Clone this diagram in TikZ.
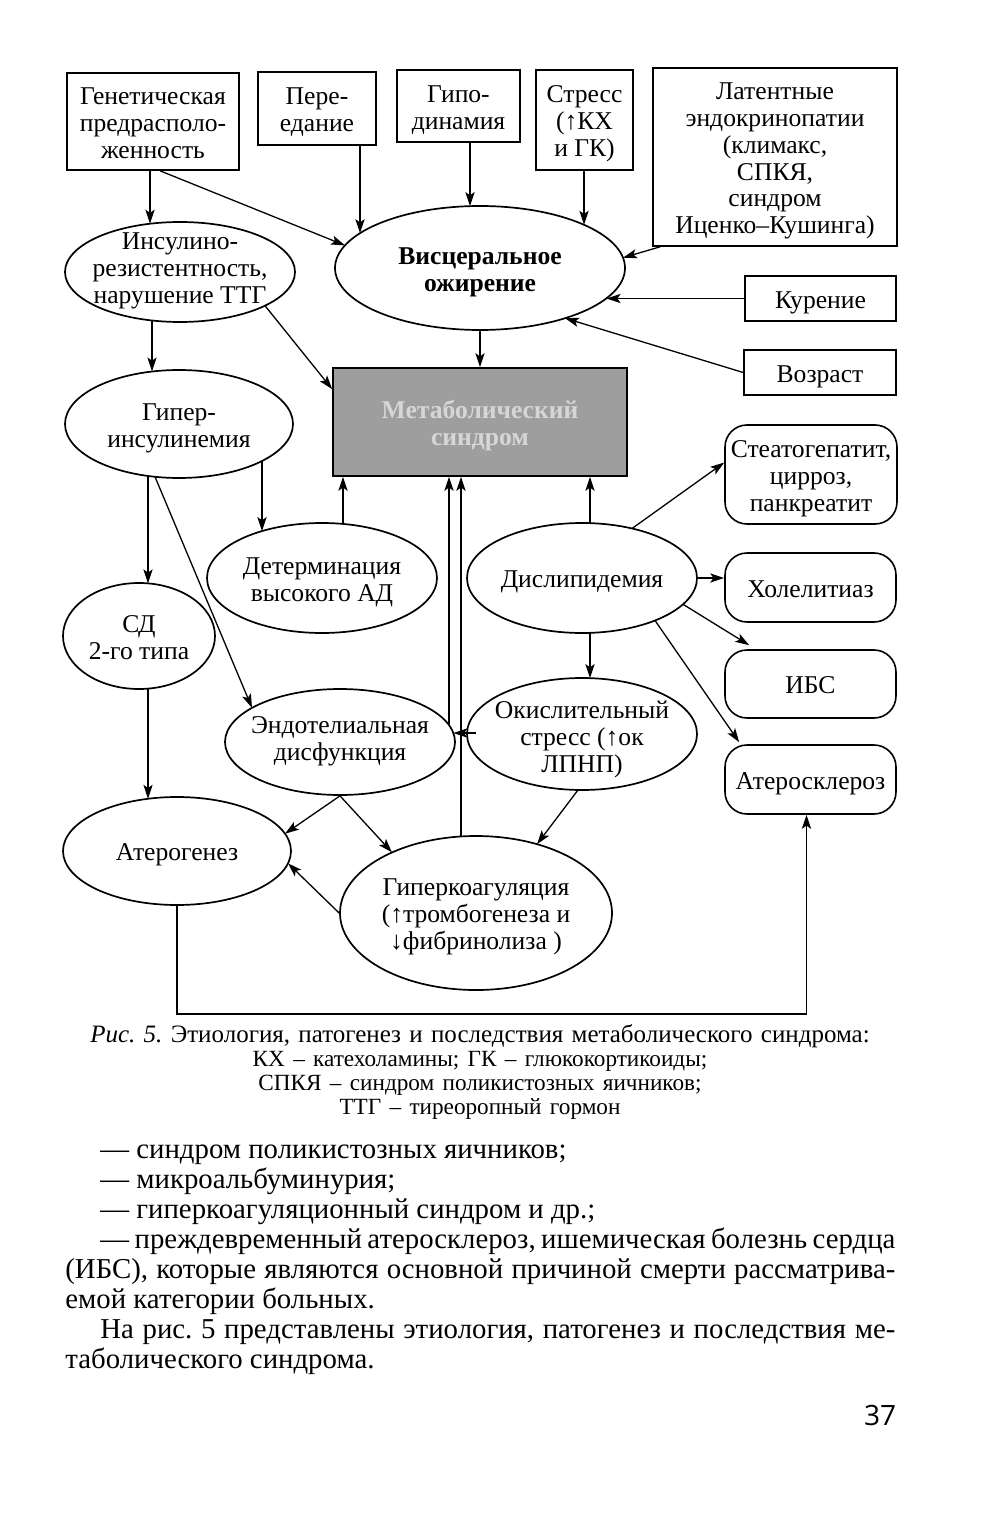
\documentclass[tikz,border=0pt]{standalone}
\usepackage{fontspec}
\setmainfont{Liberation Serif}
\newfontfamily\numfont{Open Sans}
\usetikzlibrary{shapes.geometric,arrows.meta,calc}
\frenchspacing
\newcommand{\ct}[2][0pt]{\smash{\raisebox{\dimexpr-.25em-2pt+#1\relax}{\makebox[0pt]{\begin{tabular}{@{}c@{}}#2\end{tabular}}}}}
\begin{document}
\begin{tikzpicture}[x=0.5pt,y=-0.5pt,
  every node/.style={font=\fontsize{12.8}{13.4}\selectfont},
  bx/.style={draw, line width=0.8pt, rectangle, inner sep=0pt},
  rbx/.style={draw, line width=0.8pt, rectangle, rounded corners=11pt, inner sep=0pt},
  el/.style={draw, line width=0.85pt, ellipse, inner sep=0pt},
  arr/.style={-{Stealth[length=7pt,width=4.6pt,inset=1.6pt]}, line width=0.65pt},
  ln/.style={line width=0.65pt}]
\fill[white] (0,0) rectangle (1000,1518);
\useasboundingbox (0,0) rectangle (1000,1518);

% top boxes
\node[bx, minimum width=86pt, minimum height=48.5pt] (gen) at (153,121.5) {\ct{Генетическая\\предрасполо-\\женность}};
\node[bx, minimum width=59pt, minimum height=36.5pt] (pere) at (317,108.5) {\ct{Пере-\\едание}};
\node[bx, minimum width=61.5pt, minimum height=36pt] (gipo) at (458.5,106) {\ct{Гипо-\\динамия}};
\node[bx, minimum width=48.5pt, minimum height=50pt] (stress) at (584.5,120) {\ct{Стресс\\(↑КХ\\и ГК)}};
\node[bx, minimum width=122pt, minimum height=89pt] (lat) at (775,157) {\ct{Латентные\\эндокринопатии\\(климакс,\\СПКЯ,\\синдром\\Иценко–Кушинга)}};
\node[bx, minimum width=75.5pt, minimum height=22.5pt] (kur) at (820.5,298.5) {\ct{Курение}};
\node[bx, minimum width=76pt, minimum height=22.5pt] (voz) at (820,372.5) {\ct{Возраст}};

% ellipses
\node[el, minimum width=115pt, minimum height=50pt] (ins) at (180,272) {\ct[2.5pt]{Инсулино-\\резистентность,\\нарушение ТТГ}};
\node[el, minimum width=145pt, minimum height=62pt, font=\fontsize{12.8}{13.4}\selectfont\bfseries] (vis) at (480,268) {\ct{Висцеральное\\ожирение}};
\node[draw, line width=0.8pt, fill=black!38, minimum width=147pt, minimum height=54pt, inner sep=0pt, text=black!16, font=\fontsize{12.8}{13.4}\selectfont\bfseries] (box) at (480,422) {\ct{Метаболический\\синдром}};
\node[el, minimum width=114pt, minimum height=54pt] (gins) at (179,424) {\ct{Гипер-\\инсулинемия}};
\node[el, minimum width=115pt, minimum height=55pt] (det) at (322,578) {\ct{Детерминация\\высокого АД}};
\node[el, minimum width=115pt, minimum height=55pt] (dis) at (582,578) {\ct{Дислипидемия}};
\node[el, minimum width=76pt, minimum height=53pt] (sd) at (139,636) {\ct{СД\\2-го типа}};
\node[el, minimum width=115pt, minimum height=53pt] (endo) at (340,742) {\ct[2.5pt]{Эндотелиальная\\дисфункция}};
\node[el, minimum width=115pt, minimum height=56pt] (okis) at (582,734) {\ct[-1pt]{Окислительный\\стресс (↑ок\\ЛПНП)}};
\node[el, minimum width=114pt, minimum height=54pt] (atg) at (177,851) {\ct{Атерогенез}};
\node[el, minimum width=136pt, minimum height=77pt] (koag) at (476,913) {\ct{Гиперкоагуляция\\(↑тромбогенеза и\\↓фибринолиза )}};

% right rounded boxes
\node[rbx, minimum width=86pt, minimum height=49.5pt] (st) at (811,474.5) {\ct{Стеатогепатит,\\цирроз,\\панкреатит}};
\node[rbx, minimum width=85.5pt, minimum height=34.5pt] (hol) at (810.5,587.5) {\ct{Холелитиаз}};
\node[rbx, minimum width=85.5pt, minimum height=34pt] (ibs) at (810.5,684) {\ct{ИБС}};
\node[rbx, minimum width=85.5pt, minimum height=34.5pt] (ater) at (810.5,779.5) {\ct{Атеросклероз}};

% attachment points on ellipse borders
\coordinate (v1) at ($(vis)+(-120,-34.8)$);
\coordinate (v2) at ($(vis)+(-10,-61.9)$);
\coordinate (v3) at ($(vis)+(104,-43.2)$);
\coordinate (v4) at ($(vis)+(-135,-22.6)$);
\coordinate (v5) at ($(vis)+(143,-10.3)$);
\coordinate (v6) at ($(vis)+(126.6,30.5)$);
\coordinate (v7) at ($(vis)+(85,50.2)$);
\coordinate (i1) at ($(ins)+(-30,-48.3)$);
\coordinate (i2) at ($(ins)+(-28,48.5)$);
\coordinate (i3) at ($(ins)+(85,33.7)$);
\coordinate (g1) at ($(gins)+(-27,-52.5)$);
\coordinate (g2) at ($(gins)+(-31,52)$);
\coordinate (g3) at ($(gins)+(83,37)$);
\coordinate (g4) at ($(gins)+(-24,52.8)$);
\coordinate (d1) at ($(det)+(-60,-46.9)$);
\coordinate (d2) at ($(det)+(21,-54.1)$);
\coordinate (e1) at ($(endo)+(-88,-34.1)$);
\coordinate (e2) at ($(endo)+(109,-16.9)$);
\coordinate (e3) at ($(endo)+(113.3,-9)$);
\coordinate (o1) at ($(okis)+(8,-55.9)$);
\coordinate (o2) at ($(okis)+(-4,56)$);
\coordinate (s1) at ($(dis)+(8,-54.9)$);
\coordinate (s2) at ($(dis)+(8,54.9)$);
\coordinate (s3) at ($(dis)+(50,-49.5)$);
\coordinate (s4) at ($(dis)+(101,26.3)$);
\coordinate (s5) at ($(dis)+(73,42.5)$);
\coordinate (c1) at ($(sd)+(9,-52.6)$);
\coordinate (c2) at ($(sd)+(9,52.6)$);
\coordinate (a1) at ($(atg)+(-29,-52.2)$);
\coordinate (a2) at ($(atg)+(108,-17.3)$);
\coordinate (a3) at ($(atg)+(111,12.3)$);
\coordinate (k1) at ($(koag)+(-15,-76.5)$);
\coordinate (k2) at ($(koag)+(-84,-60.6)$);
\coordinate (k3) at ($(koag)+(61,-68.8)$);

% connectors
\draw[arr] (i1 |- gen.south) -- (i1);
\draw[arr] ($(gen.south)+(7,0)$) -- (v4);
\draw[arr] (v1 |- pere.south) -- (v1);
\draw[arr] (v2 |- gipo.south) -- (v2);
\draw[arr] (v3 |- stress.south) -- (v3);
\draw[arr] ($(lat.south west)+(8,0)$) -- (v5);
\draw[arr] (kur.west) -- (kur.west -| v6);
\draw[arr] (voz.west) -- (v7);
\draw[arr] (vis.south) -- (box.north);
\draw[arr] (g1 |- i2) -- (g1);
\draw[arr] (i3) -- ($(box.north west)+(0,22)$);
\draw[arr] (c1 |- g2) -- (c1);
\draw[arr] (d1 |- g3) -- (d1);
\draw[arr] (g4) -- (e1);
\draw[arr] (d2) -- (d2 |- box.south);
\draw[arr] (e2) -- (e2 |- box.south);
\draw[arr] (k1) -- (k1 |- box.south);
\draw[arr] (s1) -- (s1 |- box.south);
\draw[arr] (s3) -- ($(st.west)+(0,-12)$);
\draw[arr] (dis.east) -- (dis.east -| hol.west);
\draw[arr] (s4) -- ($(ibs.north west)+(25,-4)$);
\draw[arr] (s5) -- ($(ater.north west)+(15,-2)$);
\draw[arr] (s2) -- (o1);
\draw[arr] ($(e3 -| okis.west)+(10,0)$) -- (e3);
\draw[arr] (c2) -- (a1);
\draw[arr] (endo.south) -- (a2);
\draw[arr] (endo.south) -- (k2);
\draw[arr] (o2) -- (k3);
\draw[arr] (koag.west) -- (a3);
\draw[arr] (atg.south) -- ++(0,108) -| ($(ater.south)+(-4,0)$);

% caption
\node[text width=460pt, align=center, inner sep=0pt, font=\fontsize{12.5}{12}\selectfont] (cap) at (480,1072)
 {{\itshape Рис. 5.} Этиология, патогенез и последствия метаболического синдрома:\\
  \fontsize{11.6}{12}\selectfont КХ – катехоламины; ГК – глюкокортикоиды;\\
  СПКЯ – синдром поликистозных яичников;\\
  ТТГ – тиреоропный гормон};

% body text
\node[anchor=north west, text width=415pt, align=justify, inner sep=0pt, font=\fontsize{14.4}{15}\selectfont] (body) at (65,1145)
 {\tolerance=9999\hyphenpenalty=10000
  \hspace*{17.5pt}— синдром поликистозных яичников;\\
  \hspace*{17.5pt}— микроальбуминурия;\\
  \hspace*{17.5pt}— гиперкоагуляционный синдром и др.;\\
  \hspace*{17.5pt}— преждевременный атеросклероз, ишемическая болезнь сердца \linebreak
  (ИБС), которые являются основной причиной смерти рассматрива-\linebreak
  емой категории больных.\\
  \hspace*{17.5pt}На рис.~5 представлены этиология, патогенез и последствия ме-\linebreak
  таболического синдрома.};

\node[font=\numfont\fontsize{14}{16}\selectfont, inner sep=0pt] (pg) at (880,1415) {37};
\end{tikzpicture}
\end{document}
